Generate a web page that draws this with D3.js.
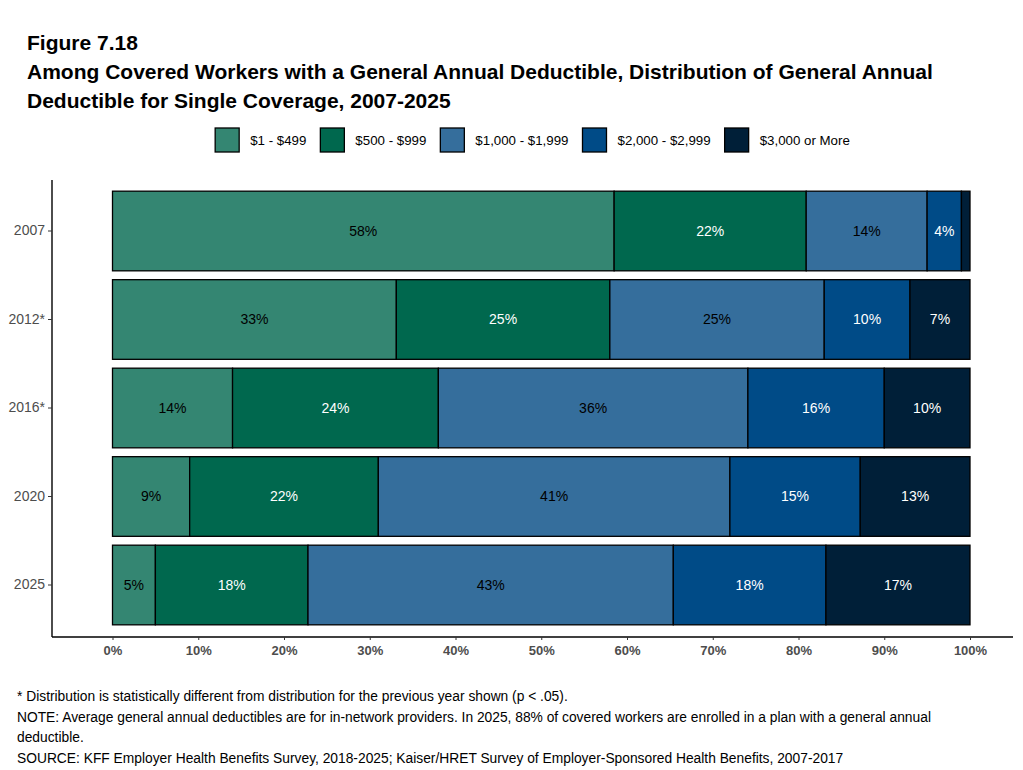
<!DOCTYPE html>
<html lang="en">
<head>
    <meta charset="UTF-8">
    <title>Figure 7.18</title>
    <script src="https://d3js.org/d3.v7.min.js"></script>
    <style>
        body { margin: 0; background: #fff; }
        svg { font-family: 'Liberation Sans', Arial, sans-serif; }
    </style>
</head>
<body>
    <div id="chart"></div>
    <script>
        // Data
        var years = ['2007', '2012*', '2016*', '2020', '2025'];
        var categories = ['$1 - $499', '$500 - $999', '$1,000 - $1,999', '$2,000 - $2,999', '$3,000 or More'];
        var colors = ['#348672', '#00684e', '#356e9c', '#004b87', '#001f38'];
        var labelColors = ['#000', '#fff', '#000', '#fff', '#fff'];

        var s1 = [58.5, 33.1, 14.0, 9.0, 5.0];
        var s2 = [22.4, 24.9, 24.0, 22.0, 17.8];
        var s3 = [14.1, 25.0, 36.1, 41.0, 42.6];
        var s4 = [4.0, 10.0, 15.9, 15.2, 17.8];
        var s5 = [1.0, 7.0, 10.0, 12.8, 16.8];

        // printed labels (null = no label)
        var l1 = ['58%', '33%', '14%', '9%', '5%'];
        var l2 = ['22%', '25%', '24%', '22%', '18%'];
        var l3 = ['14%', '25%', '36%', '41%', '43%'];
        var l4 = ['4%', '10%', '16%', '15%', '18%'];
        var l5 = [null, '7%', '10%', '13%', '17%'];

        var xTicks = [0, 10, 20, 30, 40, 50, 60, 70, 80, 90, 100];

        var series = [s1, s2, s3, s4, s5];
        var labels = [l1, l2, l3, l4, l5];

        var width = 1023, height = 770;
        var svg = d3.select('#chart').append('svg')
            .attr('width', width)
            .attr('height', height);

        // Title
        var titleLines = [
            'Figure 7.18',
            'Among Covered Workers with a General Annual Deductible, Distribution of General Annual',
            'Deductible for Single Coverage, 2007-2025'
        ];
        svg.selectAll('.title').data(titleLines).enter().append('text')
            .attr('class', 'title')
            .attr('x', 27)
            .attr('y', (d, i) => 50 + i * 29)
            .style('font-size', '21px')
            .style('font-weight', 'bold')
            .text(d => d);

        // Scales
        var x = d3.scaleLinear().domain([0, 100]).range([112.5, 970]);
        var y = d3.scaleBand().domain(years)
            .range([186.75, 629.25])
            .paddingInner(0.1)
            .paddingOuter(0.05);

        // Stacked rows
        var rows = years.map(function(yr, i) {
            var r = { year: yr };
            categories.forEach(function(c, j) { r[c] = series[j][i]; });
            return r;
        });
        var stack = d3.stack().keys(categories)(rows);

        var layers = svg.selectAll('.layer').data(stack).enter().append('g')
            .attr('class', 'layer')
            .attr('fill', (d, j) => colors[j]);

        layers.selectAll('rect').data(d => d).enter().append('rect')
            .attr('x', d => x(d[0]))
            .attr('y', d => y(d.data.year))
            .attr('width', d => x(d[1]) - x(d[0]))
            .attr('height', y.bandwidth())
            .attr('stroke', '#000')
            .attr('stroke-width', 1.3);

        layers.each(function(layer, j) {
            d3.select(this).selectAll('text.lbl').data(layer).enter()
                .filter((d, i) => labels[j][i] !== null)
                .append('text')
                .attr('class', 'lbl')
                .attr('x', d => x((d[0] + d[1]) / 2))
                .attr('y', d => y(d.data.year) + y.bandwidth() / 2)
                .attr('dy', '0.35em')
                .attr('text-anchor', 'middle')
                .attr('fill', labelColors[j])
                .style('font-size', '14px')
                .text((d, i) => labels[j][years.indexOf(d.data.year)]);
        });

        // Axes
        var xAxis = d3.axisBottom(x).tickValues(xTicks).tickFormat(d => d + '%').tickSize(3).tickSizeOuter(0);
        var gx = svg.append('g').attr('transform', 'translate(0,637)').call(xAxis);
        gx.select('.domain').attr('d', 'M52,0H1013').attr('stroke', '#000').attr('stroke-width', 1.4);
        gx.selectAll('.tick line').attr('stroke', '#333');
        gx.selectAll('.tick text')
            .attr('y', 9)
            .attr('fill', '#4d4d4d')
            .style('font-size', '13px')
            .style('font-weight', 'bold')
            .style('font-family', "'Liberation Sans', Arial, sans-serif");

        var yAxis = d3.axisLeft(y).tickSize(4).tickSizeOuter(0);
        var gy = svg.append('g').attr('transform', 'translate(52,0)').call(yAxis);
        gy.select('.domain').attr('d', 'M0,180V637').attr('stroke', '#000').attr('stroke-width', 1.4);
        gy.selectAll('.tick line').attr('stroke', '#333');
        gy.selectAll('.tick text')
            .attr('x', -7)
            .attr('fill', '#4d4d4d')
            .style('font-size', '14px')
            .style('font-family', "'Liberation Sans', Arial, sans-serif");

        // Legend, centred on the plot
        var legend = svg.append('g').attr('class', 'legend');
        var lx = 0;
        categories.forEach(function(c, j) {
            var item = legend.append('g').attr('transform', 'translate(' + lx + ',0)');
            item.append('rect')
                .attr('x', 0).attr('y', 128)
                .attr('width', 24).attr('height', 24)
                .attr('fill', colors[j])
                .attr('stroke', '#000')
                .attr('stroke-width', 1.3);
            var t = item.append('text')
                .attr('x', 35).attr('y', 140)
                .attr('dy', '0.35em')
                .style('font-size', '13.3px')
                .text(c);
            lx += 35 + t.node().getComputedTextLength() + (j < categories.length - 1 ? 14 : 0);
        });
        legend.attr('transform', 'translate(' + (532.5 - lx / 2) + ',0)');

        // Footnotes
        var notes = [
            '* Distribution is statistically different from distribution for the previous year shown (p < .05).',
            'NOTE: Average general annual deductibles are for in-network providers. In 2025, 88% of covered workers are enrolled in a plan with a general annual',
            'deductible.',
            'SOURCE: KFF Employer Health Benefits Survey, 2018-2025; Kaiser/HRET Survey of Employer-Sponsored Health Benefits, 2007-2017'
        ];
        svg.selectAll('.note').data(notes).enter().append('text')
            .attr('class', 'note')
            .attr('x', 17)
            .attr('y', (d, i) => 701 + i * 20.5)
            .style('font-size', '13.8px')
            .text(d => d);
    </script>
</body>
</html>
